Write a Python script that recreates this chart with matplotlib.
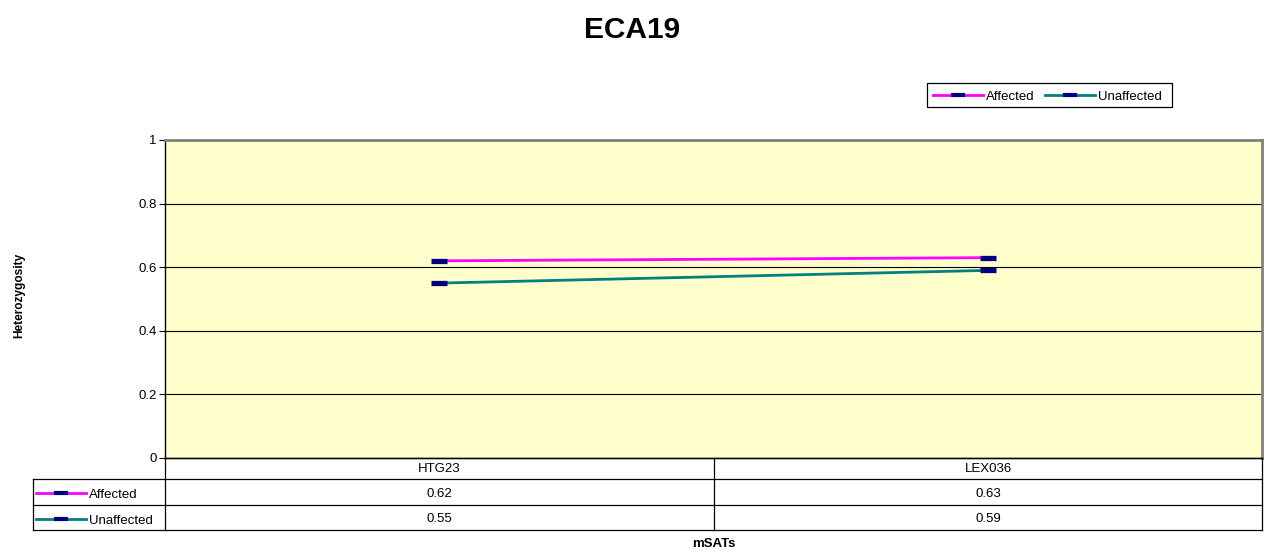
import matplotlib
matplotlib.use("Agg")
import matplotlib.pyplot as plt
from matplotlib.lines import Line2D

categories = ["HTG23", "LEX036"]
affected = [0.62, 0.63]
unaffected = [0.55, 0.59]
series_names = ["Affected", "Unaffected"]
series_colors = ["#FF00FF", "#008080"]
marker_color = "#000080"
yticks = [0, 0.2, 0.4, 0.6, 0.8, 1.0]
ytick_labels = ["0", "0.2", "0.4", "0.6", "0.8", "1"]

W, H = 1267, 552
fig = plt.figure(figsize=(W / 100, H / 100), dpi=100)
plt.rcParams['font.family'] = ['Liberation Sans', 'DejaVu Sans']
FS = 9.5

L, R, T, B = 165, 1262, 140, 458
ax = fig.add_axes([L / W, 1 - B / H, (R - L) / W, (B - T) / H])
ax.set_facecolor("#FFFFCC")
x = list(range(len(categories)))
series = [affected, unaffected]
for vals, name, col in zip(series, series_names, series_colors):
    ax.plot(x, vals, color=col, lw=2, zorder=3)
    ax.errorbar(x, vals, xerr=0.0146, fmt='none', ecolor=marker_color,
                elinewidth=3.8, capsize=0, zorder=4)

ax.set_xlim(-0.5, len(categories) - 0.5)
ax.set_ylim(0, 1)
ax.set_yticks(yticks)
ax.set_yticklabels(ytick_labels, fontsize=FS)
ax.set_xticks([])
ax.yaxis.grid(True, color="black", lw=0.8)
ax.set_axisbelow(True)
ax.tick_params(axis='y', length=4, width=0.8, pad=2)
for s in ["top", "right"]:
    ax.spines[s].set_color("#808080")
    ax.spines[s].set_linewidth(2)
for s in ["left", "bottom"]:
    ax.spines[s].set_color("black")
    ax.spines[s].set_linewidth(1)

# Data table (figure pixel coords)
def fx(px):
    return px / W

def fy(py):
    return 1 - py / H

lc = "black"
lw = 0.9
TL = 33
rows_y = [458, 479, 505, 530]
mid = 714
fig.add_artist(Line2D([fx(L), fx(L)], [fy(458), fy(530)], color=lc, lw=lw))
fig.add_artist(Line2D([fx(mid), fx(mid)], [fy(458), fy(530)], color=lc, lw=lw))
fig.add_artist(Line2D([fx(R), fx(R)], [fy(458), fy(530)], color=lc, lw=lw))
fig.add_artist(Line2D([fx(TL), fx(TL)], [fy(479), fy(530)], color=lc, lw=lw))
fig.add_artist(Line2D([fx(L), fx(R)], [fy(458), fy(458)], color=lc, lw=lw))
for yy in rows_y[1:]:
    fig.add_artist(Line2D([fx(TL), fx(R)], [fy(yy), fy(yy)], color=lc, lw=lw))
col_centers = [(L + mid) / 2, (mid + R) / 2]
for c, cx in zip(categories, col_centers):
    fig.text(fx(cx), fy((458 + 479) / 2 + 1), c, ha='center', va='center', fontsize=FS)
for i, (vals, name, col) in enumerate(zip(series, series_names, series_colors)):
    y0, y1 = rows_y[i + 1], rows_y[i + 2]
    ycl = fy((y0 + y1) / 2 + 1)
    yct = fy((y0 + y1) / 2 + 3)
    fig.add_artist(Line2D([fx(36), fx(86)], [ycl, ycl], color=col, lw=2))
    fig.add_artist(Line2D([fx(56), fx(66)], [ycl, ycl], color=marker_color, lw=3))
    fig.text(fx(89), yct, name, ha='left', va='center', fontsize=FS)
    for v, cx in zip(vals, col_centers):
        fig.text(fx(cx), fy((y0 + y1) / 2 + 2), f"{v:.2f}", ha='center', va='center', fontsize=FS)

# Legend
fig.add_artist(plt.Rectangle((fx(927), fy(107)), fx(1172) - fx(927), fy(83) - fy(107),
                             fill=False, ec='black', lw=0.9, transform=fig.transFigure))
ly = fy(95)
lx = [933, 1045]
for name, col, x0 in zip(series_names, series_colors, lx):
    fig.add_artist(Line2D([fx(x0), fx(x0 + 50)], [ly, ly], color=col, lw=2))
    fig.add_artist(Line2D([fx(x0 + 20), fx(x0 + 30)], [ly, ly], color=marker_color, lw=3))
    fig.text(fx(x0 + 53), fy(96.5), name, ha='left', va='center', fontsize=FS)

fig.text(fx(632), fy(30), "ECA19", ha='center', va='center', fontsize=21.5, fontweight='bold')
fig.text(fx(19), fy(295), "Heterozygosity", ha='center', va='center', rotation=90,
         fontsize=8.6, fontweight='bold')
fig.text(fx(714), fy(544), "mSATs", ha='center', va='center', fontsize=9.5, fontweight='bold')

fig.savefig("out.png", dpi=100, facecolor='white')
